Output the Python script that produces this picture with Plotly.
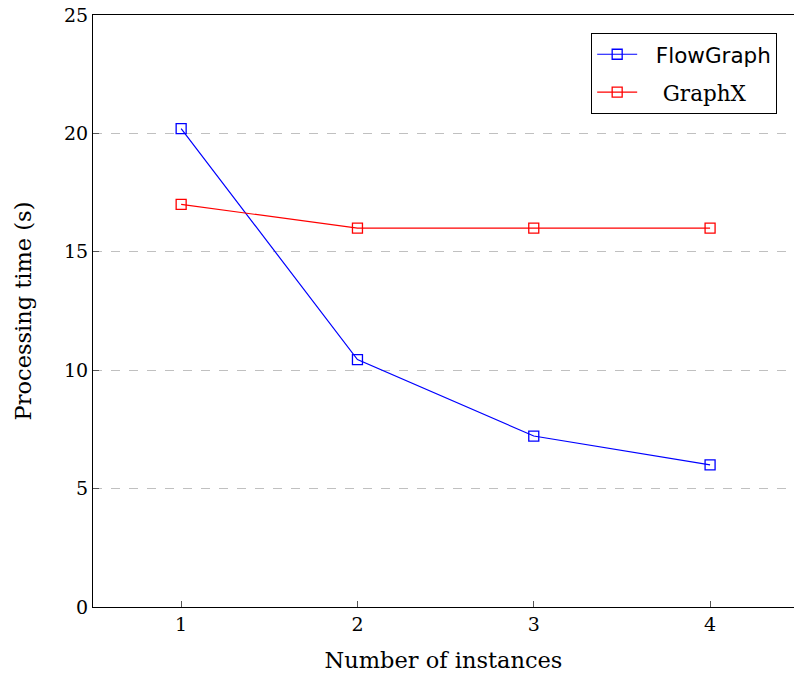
import plotly.graph_objects as go

instances = [1, 2, 3, 4]
flowgraph = [20.2, 10.45, 7.22, 6.0]
graphx = [17.0, 16.0, 16.0, 16.0]
y_ticks = [0, 5, 10, 15, 20, 25]

serif = "DejaVu Serif, Liberation Serif, serif"

fig = go.Figure()
fig.add_trace(go.Scatter(
    x=instances, y=flowgraph, mode="lines+markers",
    name='<span style="font-family:DejaVu Sans">  FlowGraph</span>',
    legendgroup="a",
    line=dict(color="#0000ff", width=1.2),
    marker=dict(symbol="square-open", size=10, color="#0000ff", line=dict(width=1.3)),
    cliponaxis=False,
))
fig.add_trace(go.Scatter(
    x=instances, y=graphx, mode="lines+markers",
    name="   GraphX",
    legendgroup="b",
    line=dict(color="#ff0000", width=1.2),
    marker=dict(symbol="square-open", size=10, color="#ff0000", line=dict(width=1.3)),
    cliponaxis=False,
))

fig.update_layout(
    width=794, height=675,
    margin=dict(l=93, r=0, t=15, b=68),
    paper_bgcolor="white", plot_bgcolor="white",
    font=dict(family=serif, size=19, color="black"),
    showlegend=True,
    legend=dict(
        x=0.976, y=0.97, xanchor="right", yanchor="top",
        bordercolor="black", borderwidth=1, bgcolor="white",
        font=dict(size=21.5), tracegroupgap=7, itemwidth=40,
    ),
    xaxis=dict(
        range=[0.5, 4.476], tickvals=instances, ticktext=[str(v) for v in instances],
        ticks="inside", ticklen=6, tickcolor="#555", showgrid=False,
        showline=True, linecolor="black", linewidth=1.2, mirror=True, zeroline=False,
        title=dict(text="Number of instances", standoff=18, font=dict(size=22.5)),
    ),
    yaxis=dict(
        range=[0, 25], tickvals=y_ticks,
        ticks="inside", ticklen=6, tickcolor="#555",
        showgrid=True, gridcolor="#c0c0c0", griddash="dash", gridwidth=1,
        showline=True, linecolor="black", linewidth=1.2, mirror=False, zeroline=False,
        title=dict(text="Processing time (s)", standoff=26, font=dict(size=22.5)),
    ),
)

post = (
    "document.body.style.margin='0px';"
    "var gd=document.getElementById('{plot_id}');"
    "Plotly.relayout(gd,{width:794,height:675});"
)
fig.write_html("out.html", post_script=post, config={"displayModeBar": False})
